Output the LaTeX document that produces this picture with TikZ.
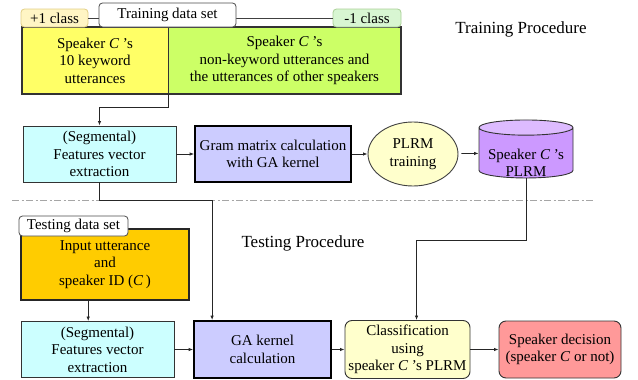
\documentclass[tikz,border=0pt]{standalone}
\usepackage{fontspec}
\setmainfont{Liberation Serif}
\usetikzlibrary{positioning, shapes, arrows.meta, calc}

\definecolor{keyyellow}{HTML}{FFFF66}
\definecolor{otherlime}{HTML}{CCFF66}
\definecolor{plustab}{HTML}{FFF5C4}
\definecolor{plusedge}{HTML}{E2CF86}
\definecolor{minustab}{HTML}{D8F6D2}
\definecolor{minusedge}{HTML}{A9CF96}
\definecolor{featcyan}{HTML}{CCFFFF}
\definecolor{gramblue}{HTML}{CCCCFF}
\definecolor{plrmyellow}{HTML}{FFFFCC}
\definecolor{modelbody}{HTML}{CC99FF}
\definecolor{modeltop}{HTML}{DDBBFF}
\definecolor{inputorange}{HTML}{FFCC00}
\definecolor{decred}{HTML}{FF9999}

\begin{document}
\begin{tikzpicture}[x=1pt, y=-1pt,
    every node/.style={font=\fontsize{15}{17.5}\selectfont, align=center, inner sep=0pt},
    box/.style={rectangle, draw=black!80, line width=0.9pt, minimum height=56pt},
    heavybox/.style={box, draw=black, line width=1.8pt},
    roundbox/.style={box, rounded corners=7pt},
    tab/.style={rectangle, rounded corners=3.5pt, draw=black!70, fill=white, line width=0.8pt},
    conn/.style={-{Latex[length=4.5pt,width=3.5pt]}, line width=0.8pt, black!85}]
  \useasboundingbox (0,0) rectangle (638,380);

  % Training data set
  \node[rectangle, fill=keyyellow, minimum width=146pt, minimum height=67pt] (pos) at (95,60.5)
    {Speaker \textit{C} 's\\10 keyword\\utterances};
  \node[rectangle, fill=otherlime, minimum width=233pt, minimum height=67pt] (neg) at (284.5,60.5)
    {Speaker \textit{C} 's\\non-keyword utterances and\\the utterances of other speakers};
  \draw[black!80, line width=0.8pt] (pos.north east) -- (pos.south east);
  \draw[black!80, line width=1.6pt] (pos.north west) rectangle (neg.south east);
  \node[tab, fill=plustab, draw=plusedge, minimum width=67pt, minimum height=18pt] (postab) at (54.5,18) {+1 class};
  \node[tab, fill=minustab, draw=minusedge, minimum width=68pt, minimum height=18pt] (negtab) at (367,18) {-1 class};
  \draw[black!75, line width=1pt] (postab.east) -- (negtab.west);
  \node[tab, minimum width=137pt, minimum height=24pt] (traintab) at (167.5,15) {Training data set};
  \node[font=\fontsize{17}{20}\selectfont] (trainlbl) at (521,29) {Training Procedure};

  % Training row
  \node[box, fill=featcyan, minimum width=153pt] (feat1) at (99.5,154) {(Segmental)\\Features vector\\extraction};
  \node[heavybox, fill=gramblue, minimum width=156pt] (gram) at (273,154) {Gram matrix calculation\\with GA kernel};
  \node[ellipse, draw=black!75, line width=0.9pt, fill=plrmyellow, minimum width=90pt, minimum height=64pt] (plrm) at (413,154) {PLRM\\training};
  \node[cylinder, shape border rotate=90, aspect=0.2, draw=black!80, line width=0.9pt,
        cylinder uses custom fill, cylinder body fill=modelbody, cylinder end fill=modeltop,
        minimum width=94pt, minimum height=58pt,
        label={[yshift=-10pt]center:{Speaker \textit{C} 's\\PLRM}}] (model) at (526,153)
    {\phantom{Speaker \textit{C} 's}\\\phantom{PLRM}};

  % Separator
  \coordinate (sepL) at (12,200);
  \coordinate (sepR) at (595,200);
  \draw[black!35, line width=1pt, dash pattern=on 7pt off 2.5pt on 2pt off 2.5pt] (sepL) -- (sepR);

  % Testing
  \node[box, fill=inputorange, draw=black!85, line width=1.6pt, minimum width=168pt, minimum height=71pt] (input) at (105,264.5)
    {Input utterance\\and\\speaker ID (\textit{C}\,)};
  \node[tab, minimum width=109pt, minimum height=20pt] (testtab) at (73.5,226) {Testing data set};
  \node[font=\fontsize{17}{20}\selectfont] (testlbl) at (303,243) {Testing Procedure};
  \node[box, fill=featcyan, minimum width=153pt] (feat2) at (97.5,349.5) {(Segmental)\\Features vector\\extraction};
  \node[heavybox, fill=gramblue, minimum width=137pt, minimum height=57pt] (ga) at (262.5,349.5) {GA kernel\\calculation};
  \node[roundbox, fill=plrmyellow, minimum width=125pt, minimum height=58pt] (cls) at (407.5,349.5) {Classification\\using\\speaker \textit{C} 's PLRM};
  \node[roundbox, fill=decred, minimum width=122pt, minimum height=57pt] (dec) at (560,349.5) {Speaker decision\\(speaker \textit{C} or not)};

  % Arrows
  \draw[conn] (pos.south east) -- ++(0,13) -| (feat1.north);
  \draw[conn] (feat1) -- (gram);
  \draw[conn] (gram) -- (plrm);
  \draw[conn, shorten <=3pt] (plrm) -- (model);
  \draw[conn] (feat1.south) -- ++(0,18) -| ([xshift=19pt]ga.north west);
  \draw[conn] (model.south) -- ++(0,62) -| ([xshift=72pt]cls.north west);
  \draw[conn] ([xshift=68pt]input.south west) -- ([xshift=68pt]input.south west |- feat2.north);
  \draw[conn] (feat2) -- (ga);
  \draw[conn] (ga) -- (cls);
  \draw[conn] (cls) -- (dec);
\end{tikzpicture}
\end{document}
